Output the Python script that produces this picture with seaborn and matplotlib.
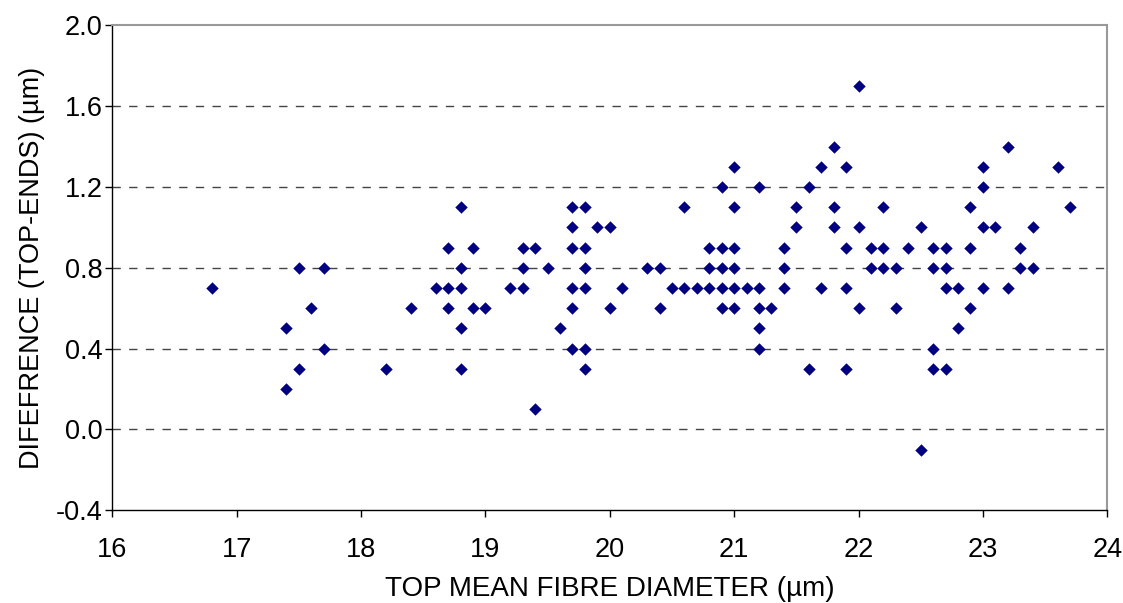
"""Top mean fibre diameter vs. difference (top - ends) scatter."""
import matplotlib

matplotlib.use("Agg")
import matplotlib.pyplot as plt
import pandas as pd
import seaborn as sns

sns.set_theme(style="white")
plt.rcParams["font.family"] = ["Liberation Sans", "DejaVu Sans"]

# valores, agrupados por columna de diámetro
diameter = [
    16.8, 17.4, 17.4, 17.5, 17.5, 17.6, 17.7, 17.7, 18.2, 18.4,
    18.6, 18.7, 18.7, 18.7, 18.8, 18.8, 18.8, 18.8, 18.8, 18.9,
    18.9, 19.0, 19.2, 19.3, 19.3, 19.3, 19.4, 19.4, 19.5, 19.6,
    19.7, 19.7, 19.7, 19.7, 19.7, 19.7,
    19.8, 19.8, 19.8, 19.8, 19.8, 19.8,
    19.9, 20.0, 20.0, 20.1, 20.3, 20.4, 20.4, 20.5, 20.6, 20.6, 20.7,
    20.8, 20.8, 20.8,
    20.9, 20.9, 20.9, 20.9, 20.9,
    21.0, 21.0, 21.0, 21.0, 21.0, 21.0,
    21.1, 21.2, 21.2, 21.2, 21.2, 21.2, 21.3,
    21.4, 21.4, 21.4, 21.5, 21.5, 21.6, 21.6, 21.7, 21.7,
    21.8, 21.8, 21.8, 21.9, 21.9, 21.9, 21.9,
    22.0, 22.0, 22.0, 22.1, 22.1, 22.2, 22.2, 22.2, 22.3, 22.3,
    22.4, 22.5, 22.5, 22.6, 22.6, 22.6, 22.6,
    22.7, 22.7, 22.7, 22.7, 22.8, 22.8, 22.9, 22.9, 22.9,
    23.0, 23.0, 23.0, 23.0, 23.1, 23.2, 23.2, 23.3, 23.3,
    23.4, 23.4, 23.6, 23.7,
]
difference = [
    0.7, 0.5, 0.2, 0.8, 0.3, 0.6, 0.8, 0.4, 0.3, 0.6,
    0.7, 0.9, 0.7, 0.6, 1.1, 0.8, 0.7, 0.5, 0.3, 0.9,
    0.6, 0.6, 0.7, 0.9, 0.8, 0.7, 0.9, 0.1, 0.8, 0.5,
    1.1, 1.0, 0.9, 0.7, 0.6, 0.4,
    1.1, 0.9, 0.8, 0.7, 0.4, 0.3,
    1.0, 1.0, 0.6, 0.7, 0.8, 0.8, 0.6, 0.7, 1.1, 0.7, 0.7,
    0.9, 0.8, 0.7,
    1.2, 0.9, 0.8, 0.7, 0.6,
    1.3, 1.1, 0.9, 0.8, 0.7, 0.6,
    0.7, 1.2, 0.7, 0.6, 0.5, 0.4, 0.6,
    0.9, 0.8, 0.7, 1.1, 1.0, 1.2, 0.3, 1.3, 0.7,
    1.4, 1.1, 1.0, 1.3, 0.9, 0.7, 0.3,
    1.7, 1.0, 0.6, 0.9, 0.8, 1.1, 0.9, 0.8, 0.8, 0.6,
    0.9, 1.0, -0.1, 0.9, 0.8, 0.4, 0.3,
    0.9, 0.8, 0.7, 0.3, 0.7, 0.5, 1.1, 0.9, 0.6,
    1.3, 1.2, 1.0, 0.7, 1.0, 1.4, 0.7, 0.9, 0.8,
    1.0, 0.8, 1.3, 1.1,
]
x_ticks = [16, 17, 18, 19, 20, 21, 22, 23, 24]
y_ticks = [-0.4, 0.0, 0.4, 0.8, 1.2, 1.6, 2.0]

df = pd.DataFrame({"diameter": diameter, "difference": difference})

fig, ax = plt.subplots(figsize=(11.23, 6.03), dpi=100)
fig.subplots_adjust(left=0.1, right=0.986, top=0.958, bottom=0.154)

# líneas de cuadrícula discontinuas estilo Excel
for yv in y_ticks[1:-1]:
    ax.axhline(yv, color="#444444", linestyle=(0, (6, 6)), linewidth=1, zorder=1)

sns.scatterplot(data=df, x="diameter", y="difference", marker="D", s=40,
                color="#000080", linewidth=0, ax=ax, zorder=3)

ax.set_xlim(16, 24)
ax.set_ylim(-0.4, 2.0)
ax.set_xticks(x_ticks)
ax.set_yticks(y_ticks)
ax.set_yticklabels([f"{v:.1f}" for v in y_ticks])
ax.tick_params(axis="both", direction="out", length=5, width=1, color="black",
               labelsize=19.5, labelcolor="black", left=True, bottom=True)
ax.tick_params(axis="x", pad=14)
ax.tick_params(axis="y", pad=2)

for side in ("left", "bottom"):
    ax.spines[side].set_color("black")
    ax.spines[side].set_linewidth(1)
for side in ("top", "right"):
    ax.spines[side].set_color("#999999")
    ax.spines[side].set_linewidth(1.5)

ax.set_xlabel("TOP MEAN FIBRE DIAMETER (µm)", fontsize=20, color="black", labelpad=10)
ax.set_ylabel("DIFEFRENCE (TOP-ENDS) (µm)", fontsize=19.5, color="black", labelpad=8)

fig.savefig("out.png", dpi=100)
